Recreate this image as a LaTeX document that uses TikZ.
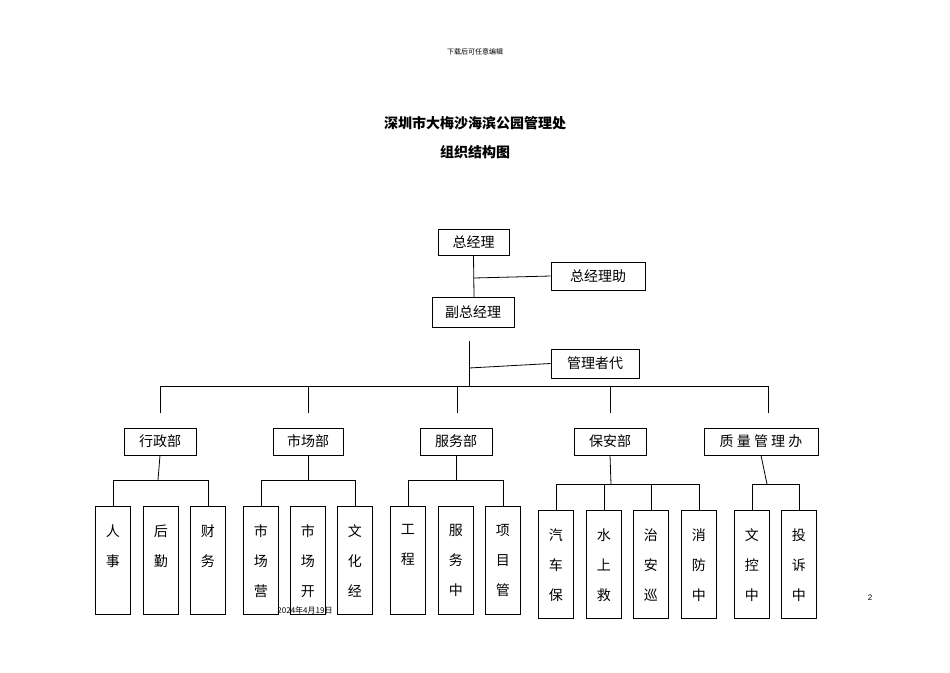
\documentclass[tikz,border=0pt]{standalone}
\usepackage{fontspec}
\setmainfont{Liberation Sans}
\newfontfamily\cjk{Noto Sans CJK SC}
\begin{document}
\begin{tikzpicture}[x=1pt,y=-1pt,
  bx/.style={draw,thick,inner sep=0pt,font=\cjk\fontsize{14}{14}\selectfont},
  ln/.style={thick},
  lt/.style={font=\cjk\fontsize{14}{30}\selectfont,align=center,anchor=north}]
\useasboundingbox (0,0) rectangle (950,672);
\node[font=\cjk\fontsize{7}{7}\selectfont] (hd) at (475,52) {下载后可任意编辑};
\node[font=\cjk\bfseries\fontsize{14}{14}\selectfont] (t1) at (475,123) {深圳市大梅沙海滨公园管理处};
\node[font=\cjk\bfseries\fontsize{14}{14}\selectfont] (t2) at (475,152) {组织结构图};
\node[bx,minimum width=71,minimum height=26] (gm) at (473.5,242) {总经理};
\node[bx,minimum width=94,minimum height=28] (ga) at (598,276) {总经理助};
\node[bx,minimum width=82,minimum height=30] (dg) at (473,312) {副总经理};
\node[bx,minimum width=88,minimum height=29] (mr) at (595,363.5) {管理者代};
\coordinate (c1) at (474,278);
\draw[ln] (gm.south) -- (474,297);
\draw[ln] (c1) -- (ga.west);
\coordinate (v1) at (469,341);
\coordinate (v2) at (469,386);
\draw[ln] (v1) -- (v2);
\draw[ln] (469,368) -- (mr.west);
\draw[ln] (160,386) -- (768,386);
\foreach \x/\w/\n/\t in {160/72/d1/行政部,308/70/d2/市场部,456/72/d3/服务部,610/72/d4/保安部,761/114/d5/{质 量 管 理 办}}{
  \node[bx,minimum width=\w,minimum height=27] (\n) at (\x,441.5) {\t};
}
\foreach \x in {160,308,457,610,768}{\draw[ln] (\x,386) -- (\x,413);}
% leaves
\newcommand\leaf[5]{% name, xl, top, a, b
  \node[draw,thick,minimum width=36,minimum height=108,inner sep=0pt,anchor=north west] (#1) at (#2,#3) {};
  \node[lt] at ([yshift=-17]#1.north) {#4};
}
\foreach \n/\x/\t in {a1/95/{人\\事},a2/143/{后\\勤},a3/190/{财\\务},
  b1/243/{市\\场\\营},b2/290/{市\\场\\开},b3/337/{文\\化\\经},
  c1/390/{工\\程},c2/438/{服\\务\\中},c3/485/{项\\目\\管}}{
  \node[draw,thick,minimum width=35,minimum height=108,inner sep=0pt,anchor=north west] (\n) at (\x,506) {};
  \node[lt] at ([yshift=-15]\n.north) {\t};
}
\foreach \n/\x/\t in {e1/538/{汽\\车\\保},e2/586/{水\\上\\救},e3/633/{治\\安\\巡},e4/681/{消\\防\\中},
  f1/734/{文\\控\\中},f2/781/{投\\诉\\中}}{
  \node[draw,thick,minimum width=35,minimum height=108,inner sep=0pt,anchor=north west] (\n) at (\x,510) {};
  \node[lt] at ([yshift=-15]\n.north) {\t};
}
\draw[ln] (d1.south) -- (158,480); \draw[ln] (a1.north) |- (a3.north |- 0,480) -- (a3.north);
\draw[ln] (d2.south) -- (308,480); \draw[ln] (b1.north) |- (b3.north |- 0,480) -- (b3.north);
\draw[ln] (d3.south) -- (456,480); \draw[ln] (c1.north) |- (c3.north |- 0,480) -- (c3.north);
\draw[ln] (d4.south) -- (611,484); \draw[ln] (e1.north) |- (e4.north |- 0,484) -- (e4.north);
\draw[ln] (e2.north) -- (e2.north |- 0,484); \draw[ln] (e3.north) -- (e3.north |- 0,484);
\draw[ln] (d5.south) -- (767,484); \draw[ln] (f1.north) |- (f2.north |- 0,484) -- (f2.north);
\node[font=\cjk\fontsize{8}{8}\selectfont] (dt) at (305,610) {2024年4月19日};
\node[font=\fontsize{8}{8}\selectfont] (pg) at (870,598) {2};
\end{tikzpicture}
\end{document}
